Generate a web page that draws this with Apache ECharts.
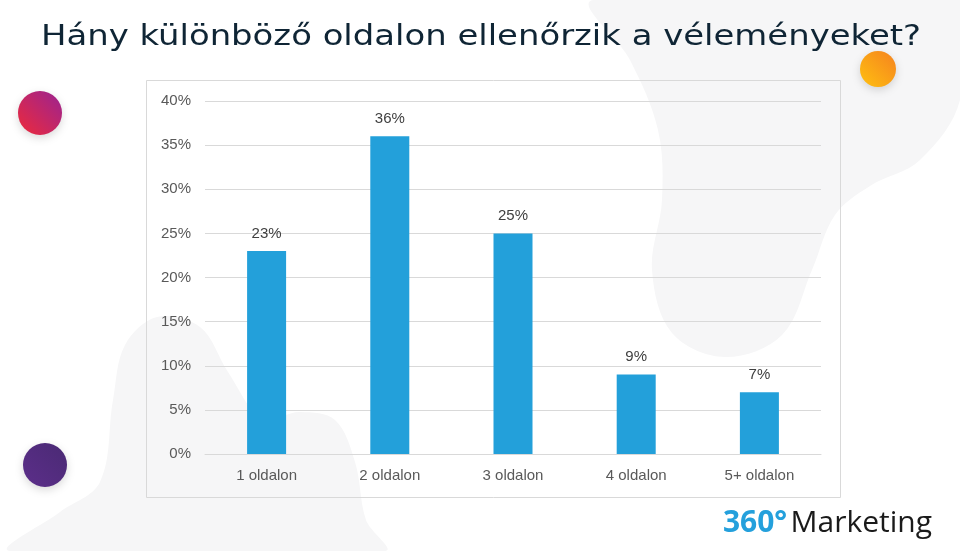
<!DOCTYPE html>
<html>
<head>
<meta charset="utf-8">
<script src="https://cdn.jsdelivr.net/npm/echarts@6/dist/echarts.min.js"></script>
<style>
  html, body { margin: 0; padding: 0; background: #ffffff; }
  #chart { width: 960px; height: 551px; }
</style>
</head>
<body>
<div id="chart"></div>
<script>
var categories = ['1 oldalon', '2 oldalon', '3 oldalon', '4 oldalon', '5+ oldalon'];
var values = [23, 36, 25, 9, 7];
var yTicks = [0, 5, 10, 15, 20, 25, 30, 35, 40];
var titleText = 'Hány különböző oldalon ellenőrzik a véleményeket?';

var dom = document.getElementById('chart');
var myChart = echarts.init(dom);

function grad(c1, c2) {
    return new echarts.graphic.LinearGradient(0, 1, 1, 0, [
        { offset: 0, color: c1 },
        { offset: 1, color: c2 }
    ]);
}

// soft background shapes
var blobRight = [[593, 0], [630, 60], [658, 130], [662, 200], [652, 270], [672, 333], [725, 357],
    [782, 335], [812, 270], [835, 215], [870, 186], [920, 160], [960, 100], [960, 0]];
var blobLeft = [[10, 551], [60, 512], [100, 482], [113, 400], [125, 345], [157, 317], [200, 327],
    [228, 372], [262, 418], [300, 412], [335, 420], [355, 462], [366, 520], [385, 551]];

var option = {
    backgroundColor: '#ffffff',
    animation: false,
    graphic: [
        { type: 'polygon', z: -10, shape: { points: blobRight, smooth: 0.35 }, style: { fill: '#f6f6f7' } },
        { type: 'polygon', z: -10, shape: { points: blobLeft, smooth: 0.35 }, style: { fill: '#f6f6f7' } },
        // title (a touch wider, the original face is a wide geometric sans)
        { type: 'text', z: 5, x: 481, y: 37.5, scaleX: 1.21,
          style: {
              text: titleText,
              align: 'center',
              verticalAlign: 'middle',
              fontFamily: 'DejaVu Sans',
              fontSize: 28,
              fill: '#0f2535'
          } },
        // chart frame
        { type: 'rect', z: -5, shape: { x: 146.5, y: 80.5, width: 694, height: 417 },
          style: { fill: 'none', stroke: '#d9d9d9', lineWidth: 1 } },
        // decorative dots
        { type: 'circle', z: 5, shape: { cx: 40, cy: 113, r: 22 },
          style: { fill: grad('#ee2a3a', '#9a2392'), shadowBlur: 8, shadowColor: 'rgba(0,0,0,0.15)', shadowOffsetY: 3 } },
        { type: 'circle', z: 5, shape: { cx: 45, cy: 465, r: 22 },
          style: { fill: grad('#5c2e8a', '#4a2a74'), shadowBlur: 8, shadowColor: 'rgba(0,0,0,0.15)', shadowOffsetY: 3 } },
        { type: 'circle', z: 5, shape: { cx: 878, cy: 69, r: 18 },
          style: { fill: grad('#ffc010', '#f5821f'), shadowBlur: 8, shadowColor: 'rgba(0,0,0,0.15)', shadowOffsetY: 3 } },
        // logo
        { type: 'text', z: 5, right: 28, top: 508,
          style: {
              text: '{a|360°} {b|Marketing}',
              rich: {
                  a: { fontFamily: 'Open Sans', fontSize: 30, fontWeight: 'bold', fill: '#24a0dc' },
                  b: { fontFamily: 'Open Sans', fontSize: 30, fontWeight: 'normal', fill: '#1a1a1a' }
              }
          } }
    ],
    grid: {
        left: 205,
        right: 139,
        top: 101,
        bottom: 97
    },
    xAxis: {
        type: 'category',
        data: categories,
        axisTick: { show: false },
        axisLine: { lineStyle: { color: '#d9d9d9' } },
        axisLabel: {
            margin: 14,
            fontFamily: 'Liberation Sans',
            fontSize: 15,
            color: '#595959'
        }
    },
    yAxis: {
        type: 'value',
        min: 0,
        max: 40,
        interval: 5,
        axisLine: { show: false },
        axisTick: { show: false },
        splitLine: { lineStyle: { color: '#d9d9d9' } },
        axisLabel: {
            margin: 14,
            fontFamily: 'Liberation Sans',
            fontSize: 15,
            color: '#595959',
            formatter: function (v) { return yTicks.indexOf(v) >= 0 ? v + '%' : ''; }
        }
    },
    series: [
        {
            type: 'bar',
            data: values,
            barWidth: 39,
            itemStyle: { color: '#23a0da' },
            label: {
                show: true,
                position: 'top',
                distance: 10,
                fontFamily: 'Liberation Sans',
                fontSize: 15,
                color: '#404040',
                formatter: '{c}%'
            }
        }
    ]
};

if (option && typeof option === 'object') {
    myChart.setOption(option, true);
}
</script>
</body>
</html>
